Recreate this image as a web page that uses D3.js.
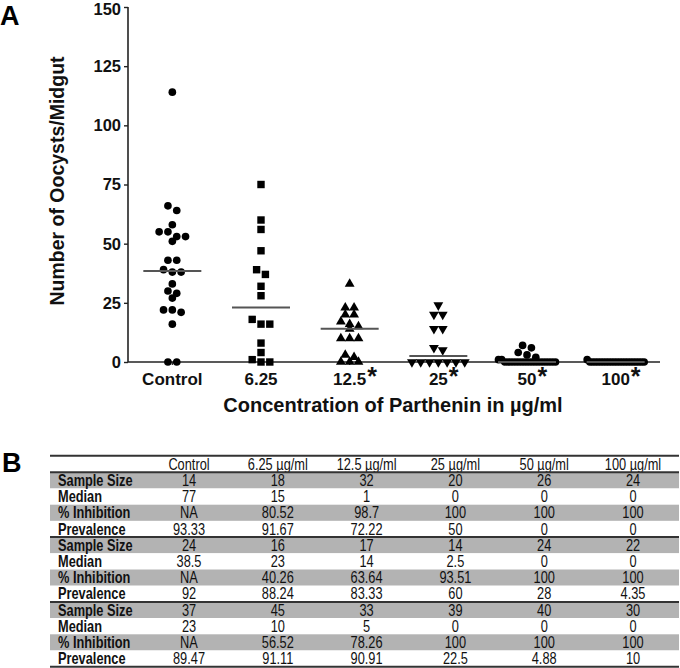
<!DOCTYPE html>
<html><head><meta charset="utf-8">
<script src="https://cdn.jsdelivr.net/npm/d3@7/dist/d3.min.js"></script>
<style>body{margin:0;background:#fff}svg{display:block}</style>
</head><body>
<svg id="c" width="680" height="668"></svg>
<script>
// ---------- DATA ----------
const categories = ["Control","6.25","12.5","25","50","100"];
const starred = [false,false,true,true,true,true];
const symbols = ["circle","square","triangle","triangleDown","circle","circle"];
const controlVals = [114,66,64,58,55,55,53,53,51,43,43,39,38,38,33,30,29,27,22,22,21,16,0,0];
const dose625Vals = [75,60,56,47,39,37,32,28,18,16,16,8,4,1,0,0];
const dose125Vals = [33,23,23,20,20,17,16,15,14,10,10,10,3,2,0,0,0];
const dose25Vals  = [24,20,20,14,14,6,5,0,0,0,0,0,0,0];
const dose50Vals  = [7,6,4,3,2,1,1,0,0,0,0,0,0,0,0,0,0,0,0,0,0,0,0,0];
const dose100Vals = [1,0,0,0,0,0,0,0,0,0,0,0,0,0,0,0,0,0,0,0,0,0];
const medians = [38.5,23,14,2.5,0,0];
const yTicks = [0,25,50,75,100,125,150];
const seriesVals = [controlVals,dose625Vals,dose125Vals,dose25Vals,dose50Vals,dose100Vals];

const tableCols = ["Control","6.25 µg/ml","12.5 µg/ml","25 µg/ml","50 µg/ml","100 µg/ml"];
const rowLabels = ["Sample Size","Median","% Inhibition","Prevalence"];
const exp1 = [["14","18","32","20","26","24"],["77","15","1","0","0","0"],["NA","80.52","98.7","100","100","100"],["93.33","91.67","72.22","50","0","0"]];
const exp2 = [["24","16","17","14","24","22"],["38.5","23","14","2.5","0","0"],["NA","40.26","63.64","93.51","100","100"],["92","88.24","83.33","60","28","4.35"]];
const exp3 = [["37","45","33","39","40","30"],["23","10","5","0","0","0"],["NA","56.52","78.26","100","100","100"],["89.47","91.11","90.91","22.5","4.88","10"]];

// ---------- CHART ----------
const svg = d3.select("#c");
const bold = "'Liberation Sans', Arial, sans-serif";

const x = d3.scaleBand().domain(categories).range([128,660]).padding(0);
const y = d3.scaleLinear().domain([0,150]).range([362,7]);

svg.append("text").attr("x",0).attr("y",25).attr("font-family",bold).attr("font-weight","bold")
  .attr("font-size",27).text("A");

// y axis
const yAx = svg.append("g").attr("transform","translate(128,0)")
  .call(d3.axisLeft(y).tickValues(yTicks).tickSize(4).tickPadding(3).tickFormat(d3.format("d")));
yAx.select(".domain").attr("stroke","#222").attr("stroke-width",1.6).attr("d","M0,7V362");
yAx.selectAll(".tick line").attr("stroke","#222").attr("stroke-width",1.4);
yAx.selectAll("text").attr("font-family",bold).attr("font-weight","bold").attr("font-size",16.5).attr("fill","#111")
  .attr("dy",d=>d===150?"0.45em":"0.33em");

// x axis
const xAx = svg.append("g").attr("transform","translate(0,362)")
  .call(d3.axisBottom(x).tickSize(3).tickPadding(4));
xAx.select(".domain").attr("stroke","#222").attr("stroke-width",1.6).attr("d","M128,0H660");
xAx.selectAll(".tick line").attr("stroke","#222").attr("stroke-width",1.2);
xAx.selectAll("text").attr("font-family",bold).attr("font-weight","bold").attr("font-size",17).attr("fill","#111").attr("dy","0.95em");

// asterisks
xAx.selectAll(".tick text").each(function(d,i){
  if(!starred[i]) return;
  const w = this.getComputedTextLength();
  svg.append("text").attr("x",x(d)+x.bandwidth()/2+w/2+1).attr("y",385)
    .attr("font-family",bold).attr("font-weight","bold").attr("font-size",25).attr("fill","#111").text("*");
});

// axis titles
svg.append("text").attr("transform","translate(64,181) rotate(-90)").attr("text-anchor","middle")
  .attr("font-family",bold).attr("font-weight","bold").attr("font-size",19.5).attr("fill","#111")
  .text("Number of Oocysts/Midgut");
svg.append("text").attr("x",393).attr("y",412).attr("text-anchor","middle")
  .attr("font-family",bold).attr("font-weight","bold").attr("font-size",20).attr("fill","#111")
  .text("Concentration of Parthenin in µg/ml");

// layout points in rows (scatter-dot style)
const spacing = 8.8, maxW = 57, rowPx = 5;
function layout(vals){
  const s = vals.slice().sort((a,b)=>b-a);
  const rows = [];
  s.forEach(v=>{
    const last = rows[rows.length-1];
    if(last && Math.abs(y(v)-y(last[0]))<=rowPx) last.push(v); else rows.push([v]);
  });
  const out=[];
  rows.forEach(r=>{
    const n=r.length, sp = n>1?Math.min(spacing,maxW/(n-1)):0;
    r.forEach((v,j)=>out.push({v,dx:(j-(n-1)/2)*sp}));
  });
  return out;
}
const symMap = {circle:d3.symbolCircle,square:d3.symbolSquare,triangle:d3.symbolTriangle,triangleDown:d3.symbolTriangle};
const symSize = {circle:46,square:55,triangle:42,triangleDown:42};
categories.forEach((c,i)=>{
  const cx = x(c)+x.bandwidth()/2;
  const pts = layout(seriesVals[i]);
  const sym = symbols[i];
  const gen = d3.symbol().type(symMap[sym]).size(symSize[sym]);
  svg.append("g").selectAll("path").data(pts).join("path")
    .attr("d",gen)
    .attr("transform",d=>`translate(${cx+d.dx},${y(d.v)})`+(sym==="triangleDown"?" rotate(180)":""))
    .attr("fill","#000");
  svg.append("line").attr("x1",cx-29).attr("x2",cx+29).attr("y1",y(medians[i])).attr("y2",y(medians[i]))
    .attr("stroke","#555").attr("stroke-width",2);
});

// ---------- TABLE ----------
svg.append("text").attr("x",2).attr("y",472).attr("font-family",bold).attr("font-weight","bold")
  .attr("font-size",27).text("B");
const tX0 = 50, tX1 = 679, headY = 464, top0 = 472.3, rowH = 16.2, sx = 0.8, tfs = 16;
const colX = d3.scalePoint().domain(tableCols).range([189,633]);
const allRows = [];
[exp1,exp2,exp3].forEach(ex=>ex.forEach((vals,k)=>allRows.push({label:rowLabels[k],vals,k})));
const tg = svg.append("g");
tg.selectAll("rect").data(allRows).join("rect")
  .attr("x",tX0).attr("width",tX1-tX0).attr("y",(d,i)=>top0+i*rowH).attr("height",rowH)
  .attr("fill",d=>d.k%2===0?"#b3b3b3":"#fff");
function ttext(xx,yy,str,anchor,weight){
  tg.append("text").attr("transform",`translate(${xx},${yy}) scale(${sx},1)`)
    .attr("text-anchor",anchor).attr("font-family",bold).attr("font-weight",weight)
    .attr("font-size",tfs).attr("fill","#111").text(str);
}
tableCols.forEach(c=>ttext(colX(c),headY+5.5,c,"middle","normal"));
allRows.forEach((r,i)=>{
  const cy = top0+i*rowH+rowH/2+5.5;
  ttext(58,cy,r.label,"start","bold");
  r.vals.forEach((v,j)=>ttext(colX(tableCols[j]),cy,v,"middle","normal"));
});
[455.7, top0, top0+4*rowH, top0+8*rowH, top0+12*rowH].forEach(yy=>{
  tg.append("line").attr("x1",tX0).attr("x2",tX1).attr("y1",yy).attr("y2",yy)
    .attr("stroke","#333").attr("stroke-width",2);
});
</script>
</body></html>
